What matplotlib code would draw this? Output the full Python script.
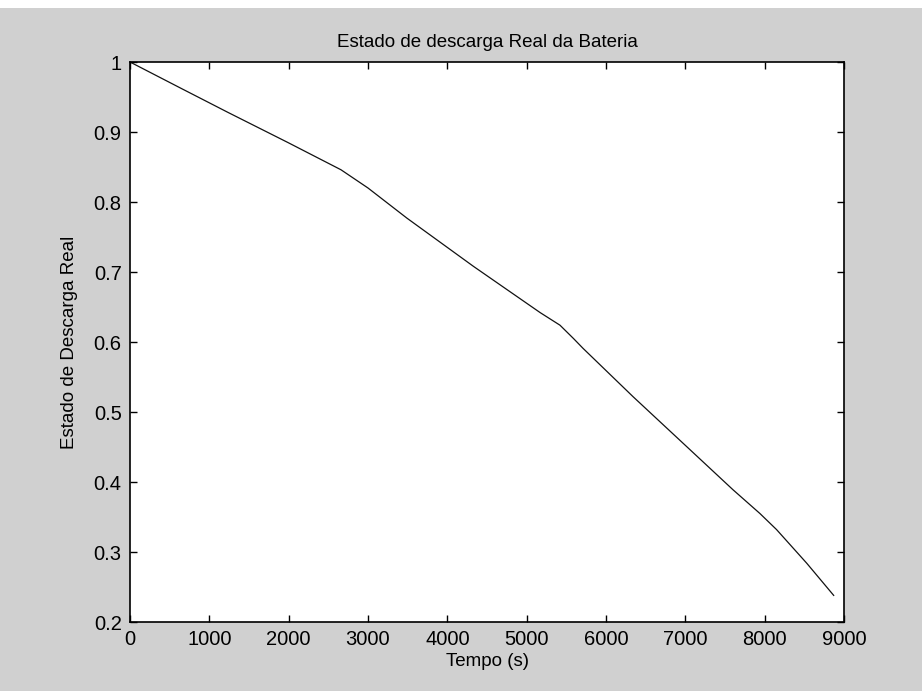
import matplotlib
matplotlib.use("Agg")
import matplotlib.pyplot as plt
from matplotlib.patches import Rectangle

# === Data ===
tempo = [0, 650, 1235, 1990, 2660, 3000, 3490, 4330, 5170, 5420,
         5590, 5710, 6340, 6975, 7600, 7940, 8150, 8530, 8870]
estado = [1.0, 0.962, 0.928, 0.885, 0.846, 0.820, 0.777, 0.708, 0.642, 0.624,
          0.605, 0.591, 0.522, 0.455, 0.389, 0.355, 0.332, 0.284, 0.238]

x_ticks = [0, 1000, 2000, 3000, 4000, 5000, 6000, 7000, 8000, 9000]
y_ticks = [0.2, 0.3, 0.4, 0.5, 0.6, 0.7, 0.8, 0.9, 1.0]
y_tick_labels = ["0.2", "0.3", "0.4", "0.5", "0.6", "0.7", "0.8", "0.9", "1"]

plt.rcParams['font.family'] = ['Liberation Sans', 'DejaVu Sans']

# === Chart ===
fig = plt.figure(figsize=(9.22, 6.91), dpi=100)
fig.patch.set_facecolor('white')
# grey window area, white strip on top
fig.patches.append(Rectangle((0, 0), 1, 1 - 8 / 691, transform=fig.transFigure,
                             facecolor='#d0d0d0', edgecolor='none', zorder=-10))

ax = fig.add_axes([130 / 922, 69 / 691, 714 / 922, 560 / 691])
ax.set_facecolor('white')

ax.plot(tempo, estado, color='#111111', linewidth=0.9)

ax.set_xlim(0, 9000)
ax.set_ylim(0.2, 1.0)
ax.set_xticks(x_ticks)
ax.set_xticklabels([str(t) for t in x_ticks])
ax.set_yticks(y_ticks)
ax.set_yticklabels(y_tick_labels)

ax.tick_params(direction='in', length=5, width=1.0, top=True, right=True,
               labelsize=14.5, pad=6, colors='black')

for spine in ax.spines.values():
    spine.set_linewidth(1.2)
    spine.set_color('black')

ax.set_title("Estado de descarga Real da Bateria", fontsize=13.5, pad=11)
ax.set_xlabel("Tempo (s)", fontsize=13.5, labelpad=3)
ax.set_ylabel("Estado de Descarga Real", fontsize=13.5, labelpad=11)

fig.savefig("out.png", dpi=100, facecolor=fig.get_facecolor())
